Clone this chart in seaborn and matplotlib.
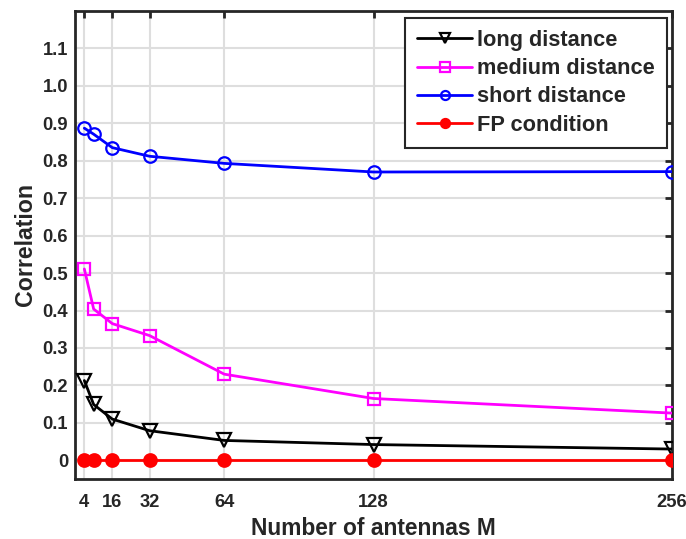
import matplotlib
matplotlib.use("Agg")
import matplotlib.pyplot as plt
import seaborn as sns
import pandas as pd

antennas = [4, 8, 16, 32, 64, 128, 256]
long_distance = [0.213, 0.149, 0.110, 0.079, 0.053, 0.042, 0.030]
medium_distance = [0.511, 0.404, 0.365, 0.333, 0.230, 0.165, 0.126]
short_distance = [0.887, 0.871, 0.835, 0.812, 0.793, 0.770, 0.771]
fp_condition = [0, 0, 0, 0, 0, 0, 0]
series_names = ["long distance", "medium distance", "short distance", "FP condition"]
x_ticks = [4, 16, 32, 64, 128, 256]
y_ticks = [0, 0.1, 0.2, 0.3, 0.4, 0.5, 0.6, 0.7, 0.8, 0.9, 1.0, 1.1]
y_tick_labels = ["0", "0.1", "0.2", "0.3", "0.4", "0.5", "0.6", "0.7", "0.8", "0.9", "1.0", "1.1"]

sns.set_theme(style="white")
plt.rcParams['font.family'] = ['Liberation Sans', 'DejaVu Sans']
plt.rcParams['font.weight'] = 'bold'

df = pd.DataFrame({
    "M": antennas * 4,
    "corr": long_distance + medium_distance + short_distance + fp_condition,
    "series": sum([[n] * len(antennas) for n in series_names], []),
})

fig = plt.figure(figsize=(6.86, 5.39), dpi=100)
ax = fig.add_axes([75 / 686, 1 - 479 / 539, (672 - 75) / 686, (479 - 11) / 539])

styles = {
    "long distance": dict(color="black", marker="v", mfc="none", ms=9.5),
    "medium distance": dict(color="#ff00ff", marker="s", mfc="none", ms=8),
    "short distance": dict(color="#0000ff", marker="o", mfc="none", ms=9),
    "FP condition": dict(color="#ff0000", marker="o", mfc="#ff0000", ms=9),
}
for name in series_names:
    st = styles[name]
    sub = df[df["series"] == name]
    sns.lineplot(data=sub, x="M", y="corr", ax=ax, color=st["color"], lw=2,
                 marker=st["marker"], markersize=st["ms"], markerfacecolor=st["mfc"],
                 markeredgecolor=st["color"], markeredgewidth=1.6, label=name,
                 zorder=3)

ax.set_xlim(0, 256)
ax.set_ylim(-0.05, 1.2)
ax.set_xticks(x_ticks)
ax.set_yticks(y_ticks)
ax.set_yticklabels(y_tick_labels)
ax.grid(True, color="#dedede", lw=1.5, zorder=0)
ax.set_axisbelow(True)
for sp in ax.spines.values():
    sp.set_color("#262626")
    sp.set_linewidth(2)
    sp.set_visible(True)
ax.tick_params(axis="both", direction="in", length=5, width=2, color="#262626",
               labelsize=13.2, labelcolor="#262626", top=True, right=True)
ax.tick_params(axis="x", pad=11)
ax.tick_params(axis="y", pad=5)
for lab in ax.get_xticklabels() + ax.get_yticklabels():
    lab.set_fontweight("bold")
ax.set_xlabel("Number of antennas M", fontsize=16.4, fontweight="bold", color="#262626", labelpad=4)
ax.set_ylabel("Correlation", fontsize=16.7, fontweight="bold", color="#262626", labelpad=4)

leg = ax.legend(loc="upper right", bbox_to_anchor=((667 - 75) / 597, 1 - 7 / 468), borderaxespad=0,
                fontsize=15.7, frameon=True, fancybox=False, edgecolor="#262626", framealpha=1,
                handlelength=2.5, handletextpad=0.25, borderpad=0.55, labelspacing=0.33)
leg.get_frame().set_linewidth(1.5)
for t in leg.get_texts():
    t.set_fontweight("bold")
for h in leg.legend_handles:
    h.set_markersize(6.5)

fig.savefig("out.png", dpi=100)
